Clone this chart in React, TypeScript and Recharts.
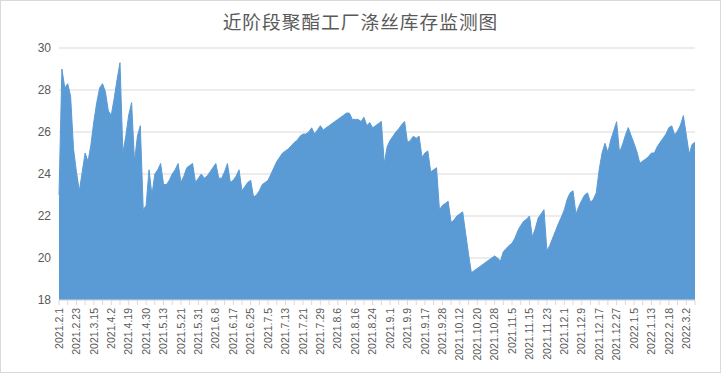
import { AreaChart, Area, XAxis, YAxis, CartesianGrid } from "recharts";

// 涤丝库存（天），按交易日顺序读取
const inventory = [
  23.0, 29.0, 28.1, 28.3, 27.7, 25.2, 24.1, 23.2, 24.1, 25.0,
  24.6, 25.4, 26.5, 27.4, 28.1, 28.3, 27.9, 27.0, 26.8, 27.6,
  28.5, 29.3, 25.0, 25.8, 26.8, 27.4, 24.6, 25.8, 26.3, 22.3,
  22.5, 24.2, 23.0, 24.0, 24.2, 24.5, 23.5, 23.5, 23.7, 24.0,
  24.2, 24.5, 23.6, 23.9, 24.3, 24.4, 24.5, 23.6, 23.8, 24.0,
  23.8, 23.9, 24.1, 24.3, 24.5, 23.8, 23.8, 24.1, 24.5, 23.6,
  23.7, 23.9, 24.2, 23.2, 23.4, 23.6, 23.7, 22.9, 23.0, 23.2,
  23.5, 23.6, 23.7, 24.0, 24.3, 24.6, 24.8, 25.0, 25.1, 25.2,
  25.35, 25.5, 25.6, 25.8, 25.9, 25.9, 26.0, 26.2, 25.9, 26.1,
  26.3, 26.1, 26.2, 26.3, 26.4, 26.5, 26.6, 26.7, 26.8, 26.9,
  26.9, 26.6, 26.6, 26.6, 26.5, 26.7, 26.3, 26.45, 26.2, 26.3,
  26.4, 26.5, 24.5, 25.3, 25.6, 25.8, 26.0, 26.15, 26.35, 26.5,
  25.5, 25.6, 25.8, 25.7, 25.8, 24.8, 25.0, 25.1, 24.1, 24.2,
  24.3, 22.3, 22.5, 22.6, 22.7, 21.7, 21.8, 22.0, 22.1, 22.2,
  21.2, 20.2, 19.3, 19.4, 19.5, 19.6, 19.7, 19.8, 19.9, 20.0,
  20.1, 20.0, 19.85, 20.3, 20.45, 20.6, 20.7, 20.95, 21.3, 21.55,
  21.75, 21.85, 22.0, 21.0, 21.4, 21.9, 22.1, 22.3, 20.35, 20.6,
  20.95, 21.3, 21.65, 21.95, 22.3, 22.8, 23.1, 23.2, 22.1, 22.45,
  22.75, 23.0, 23.1, 22.65, 22.8, 23.1, 24.2, 25.0, 25.46, 25.03,
  25.62, 26.05, 26.49, 25.03, 25.38, 25.83, 26.21, 25.83, 25.46, 25.06,
  24.51, 24.62, 24.71, 24.83, 25.0, 25.0, 25.3, 25.51, 25.7, 25.9,
  26.21, 26.29, 25.86, 26.05, 26.33, 26.78, 25.86, 24.94, 25.41, 25.51,
];

// 每 6 个交易日一个日期标签
const dateLabels = [
  "2021.2.1", "2021.2.23", "2021.3.15", "2021.4.2", "2021.4.19", "2021.4.30",
  "2021.5.13", "2021.5.21", "2021.5.31", "2021.6.8", "2021.6.17", "2021.6.25",
  "2021.7.5", "2021.7.13", "2021.7.21", "2021.7.29", "2021.8.6", "2021.8.16",
  "2021.8.24", "2021.9.1", "2021.9.9", "2021.9.17", "2021.9.28", "2021.10.12",
  "2021.10.20", "2021.10.28", "2021.11.5", "2021.11.15", "2021.11.23", "2021.12.1",
  "2021.12.9", "2021.12.17", "2021.12.27", "2022.1.5", "2022.1.13", "2022.2.18",
  "2022.3.2",
];

const yTicks = [18, 20, 22, 24, 26, 28, 30];

const labelStep = 6;
const tickStep = 3;

const data = inventory.map((v, i) => ({ i, v }));
const last = inventory.length - 1;
const xTicks: number[] = [];
for (let t = 0; t <= last; t += tickStep) xTicks.push(t);

const textColor = "#595959";
const gridColor = "#d9d9d9";

function DateTick(props: any) {
  const { x, y, payload } = props;
  const idx = payload.value;
  if (idx % labelStep !== 0) return null;
  const label = dateLabels[idx / labelStep];
  if (!label) return null;
  return (
    <text
      x={x}
      y={y}
      transform={`rotate(-90 ${x} ${y})`}
      textAnchor="end"
      dy="0.35em"
      fill={textColor}
      fontSize={10.5}
      fontFamily="'Liberation Sans', Arial, sans-serif"
    >
      {label}
    </text>
  );
}

export default function App() {
  return (
    <div
      style={{
        position: "absolute",
        left: 0,
        top: 0,
        width: 721,
        height: 373,
        background: "#fff",
        boxShadow: `inset 0 0 0 1px ${gridColor}`,
      }}
    >
      <div
        style={{
          position: "absolute",
          top: 7,
          left: 0,
          width: 721,
          textAlign: "center",
          fontFamily: "'Noto Sans CJK SC', sans-serif",
          fontSize: 18.7,
          color: textColor,
          letterSpacing: 1,
        }}
      >
        近阶段聚酯工厂涤丝库存监测图
      </div>
      <AreaChart
        width={721}
        height={373}
        data={data}
        margin={{ top: 48, right: 26, bottom: 13, left: 0 }}
      >
        <CartesianGrid stroke={gridColor} vertical={false} />
        <XAxis
          dataKey="i"
          type="number"
          domain={[0, last]}
          ticks={xTicks}
          interval={0}
          height={60}
          axisLine={{ stroke: gridColor }}
          tickLine={{ stroke: gridColor }}
          tickSize={5}
          tickMargin={3}
          tick={<DateTick />}
        />
        <YAxis
          domain={[18, 30]}
          ticks={yTicks}
          width={59}
          axisLine={false}
          tickLine={false}
          tick={{ fill: textColor, fontSize: 12, fontFamily: "'Liberation Sans', Arial, sans-serif" }}
        />
        <Area
          type="linear"
          dataKey="v"
          stroke="#5b9bd5"
          strokeWidth={1}
          fill="#5b9bd5"
          fillOpacity={1}
          baseValue={18}
          isAnimationActive={false}
        />
      </AreaChart>
    </div>
  );
}
